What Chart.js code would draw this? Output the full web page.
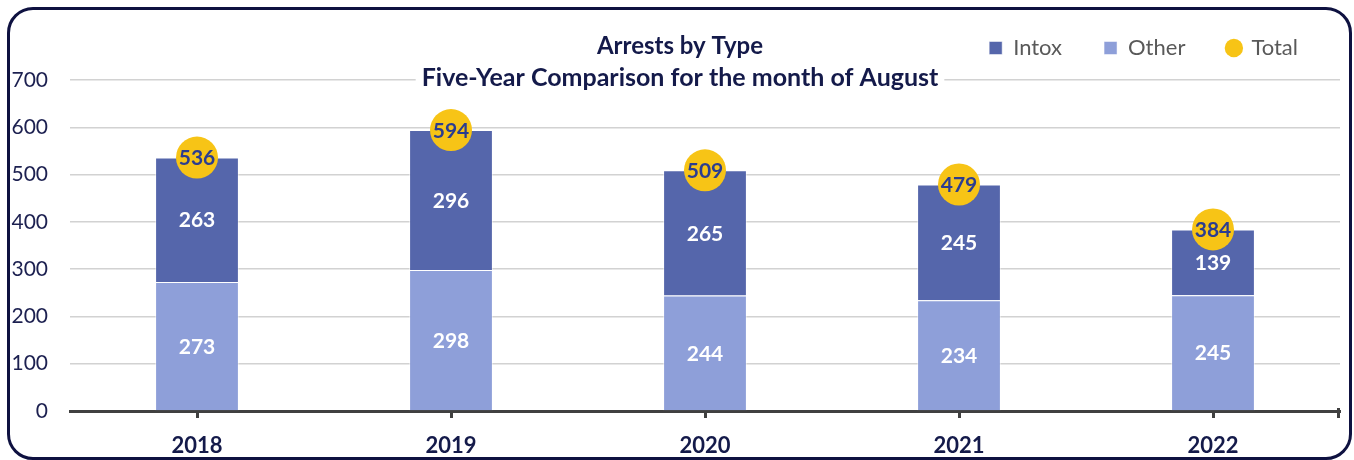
<!DOCTYPE html>
<html>
<head>
<meta charset="utf-8">
<title>Arrests by Type</title>
<script src="https://cdn.jsdelivr.net/npm/chart.js@4.4.0/dist/chart.umd.min.js"></script>
<style>
  html, body { margin: 0; padding: 0; background: #fff; }
  #wrap { position: relative; width: 1354px; height: 460px; }
  #frame {
    position: absolute; left: 7px; top: 7px; width: 1345px; height: 453px;
    border: 3px solid #0e1140; border-radius: 26px; box-sizing: border-box;
    pointer-events: none;
  }
</style>
</head>
<body>
<div id="wrap">
  <canvas id="chart_arrests" width="1354" height="460"></canvas>
  <div id="frame"></div>
</div>
<script>
// datos del grafico
const years = ["2018", "2019", "2020", "2021", "2022"];
const intox = [263, 296, 265, 245, 139];
const other = [273, 298, 244, 234, 245];
const total = [536, 594, 509, 479, 384];
const titleLines = ["Arrests by Type", "Five-Year Comparison for the month of August"];
const legendOrder = ["Intox", "Other", "Total"];

const NAVY = "#141a4a";

// titulo con fondo blanco (tapa la linea de 700)
const chartTitle = {
	id: "chartTitle",
	afterDraw(chart) {
		const ctx = chart.ctx;
		const cx = chart.width / 2 + 3;
		ctx.save();
		ctx.font = "bold 25px Lato";
		const w = ctx.measureText(titleLines[1]).width;
		ctx.fillStyle = "#fff";
		ctx.fillRect(cx - w / 2 - 6, 32, w + 12, 60);
		ctx.fillStyle = NAVY;
		ctx.textAlign = "center";
		ctx.textBaseline = "middle";
		ctx.font = "bold 24px Lato";
		ctx.fillText(titleLines[0], cx, 46);
		ctx.font = "bold 25px Lato";
		ctx.fillText(titleLines[1], cx, 78);
		ctx.restore();
	},
};

// etiquetas de valores + marca final del eje x
const valueLabels = {
	id: "valueLabels",
	afterDatasetsDraw(chart) {
		const ctx = chart.ctx;
		const area = chart.chartArea;
		ctx.save();
		ctx.strokeStyle = "#404040";
		ctx.lineWidth = 3;
		ctx.beginPath();
		ctx.moveTo(area.right - 1.5, area.bottom - 3);
		ctx.lineTo(area.right - 1.5, area.bottom + 7);
		ctx.stroke();

		ctx.textAlign = "center";
		ctx.textBaseline = "middle";
		ctx.font = "bold 21px Lato";
		chart.data.datasets.forEach((ds, i) => {
			const meta = chart.getDatasetMeta(i);
			meta.data.forEach((el, j) => {
				const p = el.getCenterPoint();
				ctx.fillStyle = ds.type === "line" ? "#2b3d90" : "#ffffff";
				ctx.fillText(String(ds.data[j]), p.x, p.y + 1);
			});
		});
		ctx.restore();
	},
};

const ctx = document.getElementById("chart_arrests").getContext("2d");

let chart_arrests = new Chart(ctx, {
	type: "bar",
	data: {
		labels: years,
		datasets: [
			{
				label: "Other",
				data: other,
				backgroundColor: "#8e9fd9",
				borderColor: "rgba(255, 255, 255, 0.5)",
				borderWidth: 1,
				pointStyle: "rect",
				stack: "bars",
				order: 1,
				barPercentage: 0.33,
				categoryPercentage: 1,
			},
			{
				label: "Intox",
				data: intox,
				backgroundColor: "#5566ab",
				borderColor: "rgba(255, 255, 255, 0.5)",
				borderWidth: 1,
				pointStyle: "rect",
				stack: "bars",
				order: 1,
				barPercentage: 0.33,
				categoryPercentage: 1,
			},
			{
				type: "line",
				label: "Total",
				data: total,
				showLine: false,
				backgroundColor: "#f7c416",
				borderColor: "#f7c416",
				pointStyle: "circle",
				pointRadius: 21,
				pointHoverRadius: 21,
				pointBorderWidth: 0,
				stack: "total",
				order: 0,
			},
		],
	},
	options: {
		responsive: false,
		animation: false,
		layout: {
			autoPadding: false,
			padding: { top: -5, left: 0, right: 14, bottom: 0 },
		},
		plugins: {
			tooltip: { enabled: false },
			legend: {
				position: "top",
				align: "end",
				weight: 1600,
				labels: {
					usePointStyle: true,
					boxWidth: 13,
					boxHeight: 13,
					padding: 42,
					color: "#595959",
					font: { family: "Lato", size: 22 },
					sort: (a, b) => legendOrder.indexOf(a.text) - legendOrder.indexOf(b.text),
				},
			},
			subtitle: {
				display: true,
				text: " ",
				font: { size: 2 },
				padding: { top: 0, bottom: 8.6 },
			},
		},
		scales: {
			x: {
				stacked: true,
				afterFit: (scale) => { scale.height = 49; },
				grid: {
					display: true,
					offset: false,
					drawOnChartArea: false,
					drawTicks: true,
					tickLength: 7,
					tickWidth: 3,
					tickColor: "#404040",
				},
				border: { display: true, color: "#404040", width: 3 },
				ticks: {
					color: NAVY,
					padding: 15,
					font: { family: "Lato", size: 22, weight: "bold" },
				},
			},
			y: {
				stacked: true,
				min: 0,
				max: 700,
				afterFit: (scale) => { scale.width = 70; },
				grid: {
					color: "#d2d2d2",
					lineWidth: 1.5,
					drawTicks: false,
				},
				border: { display: false },
				ticks: {
					stepSize: 100,
					padding: 22,
					color: "#1c2050",
					font: { family: "Lato", size: 21 },
				},
			},
		},
	},
	plugins: [valueLabels, chartTitle],
});
</script>
</body>
</html>
